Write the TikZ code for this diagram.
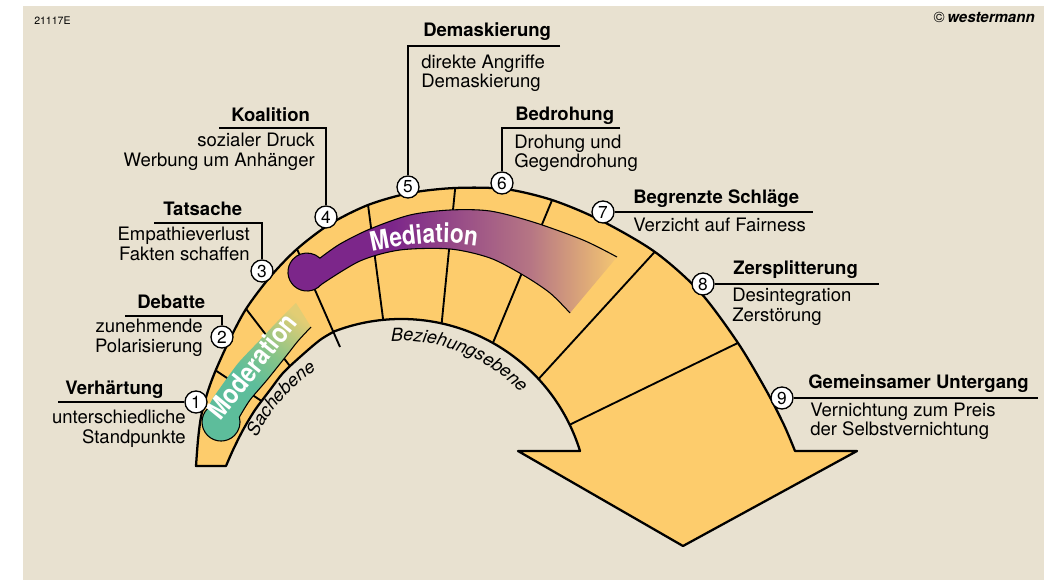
\documentclass[tikz,border=0pt]{standalone}
\usepackage{fontspec}
\setmainfont{TeX Gyre Heros}
\newfontfamily\condfont{TeX Gyre Heros}[FakeStretch=0.85]
\usetikzlibrary{decorations.text}
\definecolor{bg}{RGB}{232,225,208}
\definecolor{archc}{RGB}{253,204,108}
\definecolor{medA}{RGB}{124,38,138}
\definecolor{medM}{RGB}{182,118,132}
\definecolor{medB}{RGB}{244,198,114}
\definecolor{modA}{RGB}{93,189,155}
\definecolor{modB}{RGB}{135,196,136}
\definecolor{modC}{RGB}{226,205,116}
\pgfdeclarehorizontalshading{medshade}{100bp}{color(0bp)=(medA); color(41bp)=(medA); color(62bp)=(medM); color(75bp)=(medB); color(100bp)=(medB)}
\pgfdeclareverticalshading{modshade}{100bp}{color(0bp)=(modA); color(46bp)=(modA); color(60bp)=(modB); color(78bp)=(modC); color(100bp)=(modC)}
\tikzset{
  hd/.style={inner sep=0pt, font=\fontsize{13.9}{15}\selectfont\bfseries},
  bd/.style={inner sep=0pt, font=\fontsize{13.9}{15}\selectfont},
  num/.style={circle, draw=black, fill=white, line width=1pt, minimum size=16.5pt, inner sep=0pt, font=\fontsize{13}{13}\selectfont},
  lead/.style={line width=1pt, line join=miter},
  radial/.style={line width=1.4pt},
  outline/.style={line width=1.7pt, line join=round},
  barline/.style={line width=0.8pt},
}
\def\archpath{plot[smooth] coordinates {(196,466) (198,440) (201,417) (207,394) (215,372) (229,341) (246,309) (270,277) (297,249) (330,224) (368,205) (410,193) (455,188) (505,189) (552,200) (600,220) (655,252) (700,292) (738,343) (766,390) (784,425) (795,451)} -- (857,451) -- (683,546) -- (518,451) -- (580,451) arc[start angle=-17.1, end angle=-110.7, radius=187] -- plot[smooth] coordinates {(335,331) (320,340) (300,357) (283,373) (270,390) (255,410) (243,430) (233,450) (226,466)} -- cycle}
\def\modpath{(239.4,417.1) arc[start angle=-15, end angle=225, radius=19] -- plot[smooth] coordinates {(207.6,408.6) (213,398) (220,388) (230,374) (240,361) (260,340) (277,322) (296,303)} -- (311,327) -- plot[smooth] coordinates {(311,327) (298,341) (287,355) (267,380) (250,400) (239.4,417.1)} -- cycle}
\def\medpath{(321.3,284.5) arc[start angle=41, end angle=313, radius=19] -- plot[smooth] coordinates {(320,258.1) (340,244) (370,229) (410,215) (450,210) (490,211) (533,222) (583,240) (617,257)} -- (570,313) -- plot[smooth] coordinates {(570,313) (550,293) (523,275) (490,258) (450,249) (400,250) (360,261) (321.3,284.5)} -- cycle}
\begin{document}
\begin{tikzpicture}[x=0.75pt, y=-0.75pt]
\useasboundingbox (0,0) rectangle (1049,580);
\fill[white] (0,0) rectangle (1049,580);
\fill[bg] (23,6) rectangle (1044,580);

% arch body
\fill[archc] \archpath;
\begin{scope}
  \clip \archpath;
  \draw[radial] (206,364) -- (275,410);
  \draw[radial] (240,301) -- (296,374);
  \draw[radial] (367,197) -- (384,326);
  \draw[radial] (456,180) -- (441,330);
  \draw[radial] (555,193) -- (490,350);
  \draw[radial] (661,245) -- (534,384);
  \draw[radial] (746,339) -- (565,427);
\end{scope}
\draw[radial] (297,249) -- (340,347);

% Moderation bar
\path[shade, shading=modshade, shading angle=-40] \modpath;
\draw[barline] (207.6,408.6) arc[start angle=225, end angle=-15, radius=19] -- plot[smooth] coordinates {(239.4,417.1) (250,400) (267,380) (287,355) (298,341) (311,327)};

% Mediation bar
\path[shade, shading=medshade] \medpath;
\draw[barline] plot[smooth] coordinates {(570,313) (550,293) (523,275) (490,258) (450,249) (400,250) (360,261) (321.3,284.5)} arc[start angle=41, end angle=313, radius=19] -- plot[smooth] coordinates {(320,258.1) (340,244) (370,229) (410,215) (450,210) (490,211) (533,222) (583,240) (617,257)};

% outline
\draw[outline] \archpath;

% bar texts
\path[decorate, decoration={text along path, text={|\condfont\bfseries\fontsize{20}{20}\selectfont|Mediation}, text color=white, text align=center}] plot[smooth] coordinates {(330,265) (350,257) (383,249) (420,244) (450,243) (490,248) (520,256)};
\path[decorate, decoration={text along path, text={|\condfont\bfseries\fontsize{20.5}{20.5}\selectfont|Moderation}, text color=white, text align=center}] (200,446) -- (319,299);

% level labels
\path[decorate, decoration={text along path, text={|\itshape\fontsize{13.5}{13.5}\selectfont|Beziehungsebene}, text align=center}] ({401+164*cos(118)},{505-164*sin(118)}) arc[start angle=-118, end angle=-18.6, radius=164];
\path[decorate, decoration={text along path, text={|\itshape\fontsize{13.5}{13.5}\selectfont|Sachebene}, text align=center}] ({401+159*cos(175)},{505-159*sin(175)}) arc[start angle=-175, end angle=-102, radius=159];

% number circles
\node[num] (c1) at (196,402) {1};
\node[num] (c2) at (222,337) {2};
\node[num] (c3) at (262,271) {3};
\node[num] (c4) at (326,217) {4};
\node[num] (c5) at (408,187) {5};
\node[num] (c6) at (502,183) {6};
\node[num] (c7) at (603,212) {7};
\node[num] (c8) at (703,284) {8};
\node[num] (c9) at (782,398) {9};

% leader line ends
\coordinate (e1) at (58,402);
\coordinate (e2a) at (125,316); \coordinate (e2b) at (222,316);
\coordinate (e3a) at (154,223); \coordinate (e3b) at (262,223);
\coordinate (e4a) at (219,128); \coordinate (e4b) at (326,128);
\coordinate (e5a) at (560,46);  \coordinate (e5b) at (408,46);
\coordinate (e6a) at (620,128); \coordinate (e6b) at (502,128);
\coordinate (e7) at (813,212);
\coordinate (e8) at (879,284);
\coordinate (e9) at (1038,398);
\draw[lead] (e1) -- (c1);
\draw[lead] (e2a) -- (e2b) -- (c2);
\draw[lead] (e3a) -- (e3b) -- (c3);
\draw[lead] (e4a) -- (e4b) -- (c4);
\draw[lead] (e5a) -- (e5b) -- (c5);
\draw[lead] (e6a) -- (e6b) -- (c6);
\draw[lead] (c7) -- (e7);
\draw[lead] (c8) -- (e8);
\draw[lead] (c9) -- (e9);

% headings
\node[hd, anchor=mid west] (h1) at (65,391) {Verhärtung};
\node[hd, anchor=mid west] (h2) at (137,305) {Debatte};
\node[hd, anchor=mid west] (h3) at (163,212) {Tatsache};
\node[hd, anchor=mid west] (h4) at (231,118) {Koalition};
\node[hd, anchor=mid west] (h5) at (423,33) {Demaskierung};
\node[hd, anchor=mid west] (h6) at (515,117) {Bedrohung};
\node[hd, anchor=mid west] (h7) at (633,200) {Begrenzte Schläge};
\node[hd, anchor=mid west] (h8) at (733,271) {Zersplitterung};
\node[hd, anchor=mid west] (h9) at (808,385) {Gemeinsamer Untergang};

% body texts
\node[bd, anchor=mid east] (t1a) at (186,420) {unterschiedliche};
\node[bd, anchor=mid east] (t1b) at (186,440) {Standpunkte};
\node[bd, anchor=mid east] (t2a) at (203,329) {zunehmende};
\node[bd, anchor=mid east] (t2b) at (203,349) {Polarisierung};
\node[bd, anchor=mid east] (t3a) at (250,237) {Empathieverlust};
\node[bd, anchor=mid east] (t3b) at (250,257) {Fakten schaffen};
\node[bd, anchor=mid east] (t4a) at (315,143) {sozialer Druck};
\node[bd, anchor=mid east] (t4b) at (315,163) {Werbung um Anhänger};
\node[bd, anchor=mid west] (t5a) at (421,65) {direkte Angriffe};
\node[bd, anchor=mid west] (t5b) at (421,84) {Demaskierung};
\node[bd, anchor=mid west] (t6a) at (514,145) {Drohung und};
\node[bd, anchor=mid west] (t6b) at (514,164) {Gegendrohung};
\node[bd, anchor=mid west] (t7a) at (633,228) {Verzicht auf Fairness};
\node[bd, anchor=mid west] (t8a) at (732,298) {Desintegration};
\node[bd, anchor=mid west] (t8b) at (732,318) {Zerstörung};
\node[bd, anchor=mid west] (t9a) at (810,413) {Vernichtung zum Preis};
\node[bd, anchor=mid west] (t9b) at (810,432) {der Selbstvernichtung};

% corner labels
\node[anchor=mid west, inner sep=0pt, font=\fontsize{7.9}{8}\selectfont] (code) at (34,21) {21117E};
\node[anchor=mid east, inner sep=0pt, font=\fontsize{11.3}{12}\selectfont] (copy) at (1035,19) {©\,\textbf{\textit{westermann}}};
\end{tikzpicture}
\end{document}
